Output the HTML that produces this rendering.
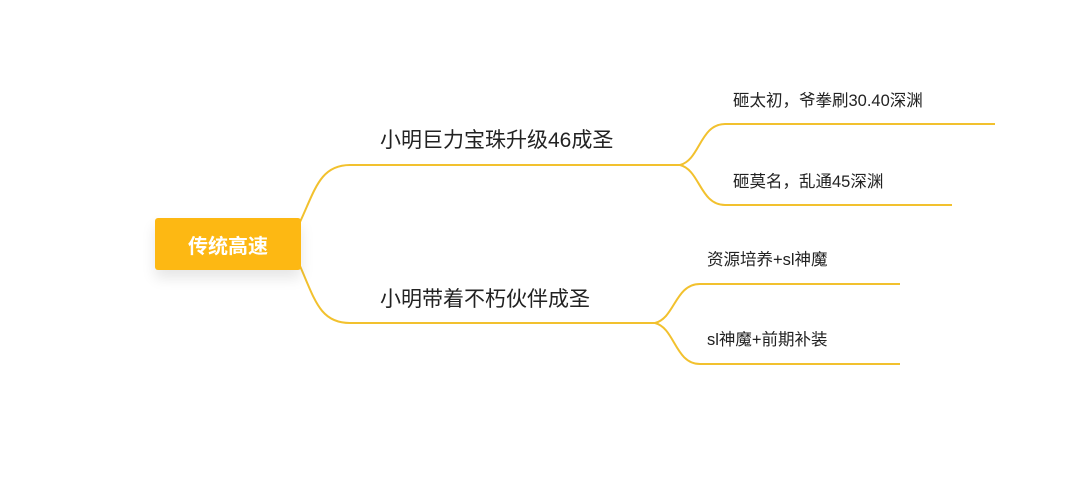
<!DOCTYPE html>
<html><head><meta charset="utf-8"><style>
body{margin:0;background:#fff;width:1080px;height:483px;overflow:hidden;position:relative;font-family:"Liberation Sans","Noto Sans CJK SC",sans-serif;}
.t{position:absolute;color:#222;white-space:nowrap;line-height:1;}
.root{position:absolute;left:155px;top:218px;width:146px;height:52px;background:#fdb813;border-radius:3px;color:#fff;font-size:20px;font-weight:bold;display:flex;align-items:center;justify-content:center;box-shadow:0 8px 14px rgba(0,0,0,0.1);}
</style></head><body>
<svg width="1080" height="483" style="position:absolute;left:0;top:0" fill="none" stroke="#f2c12e" stroke-width="2">
<path d="M300,222 C315,190 320,165 350,165 L680,165"/>
<path d="M300,266 C315,300 320,323 350,323 L655,323"/>
<path d="M680,165 C700,160 700,124 725,124 L995,124"/>
<path d="M680,165 C700,170 700,205 725,205 L952,205"/>
<path d="M655,323 C675,318 675,284 700,284 L900,284"/>
<path d="M655,323 C675,328 675,364 700,364 L900,364"/>
</svg>
<div class="root">传统高速</div>
<div class="t" style="left:380px;top:130px;font-size:21px">小明巨力宝珠升级46成圣</div>
<div class="t" style="left:380px;top:289px;font-size:21px">小明带着不朽伙伴成圣</div>
<div class="t" style="left:733px;top:93px;font-size:16.5px">砸太初，爷拳刷30.40深渊</div>
<div class="t" style="left:733px;top:174px;font-size:16.5px">砸莫名，乱通45深渊</div>
<div class="t" style="left:707px;top:252px;font-size:16.5px">资源培养+sl神魔</div>
<div class="t" style="left:707px;top:332px;font-size:16.5px">sl神魔+前期补装</div>
</body></html>
